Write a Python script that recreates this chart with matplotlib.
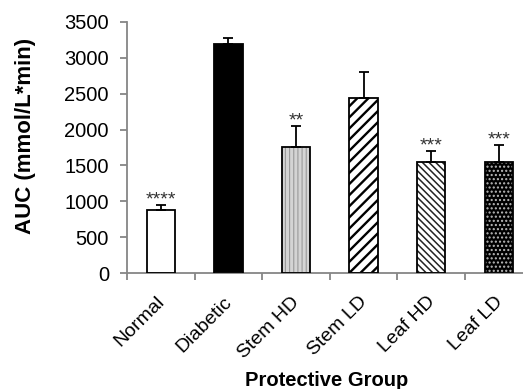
import matplotlib
matplotlib.use("Agg")
import matplotlib.pyplot as plt
import matplotlib.transforms as mtransforms
import numpy as np

plt.rcParams['font.family'] = ['Liberation Sans', 'DejaVu Sans']

groups = ["Normal", "Diabetic", "Stem HD", "Stem LD", "Leaf HD", "Leaf LD"]
auc = [881, 3186, 1761, 2443, 1544, 1553]
auc_err = [73, 92, 292, 362, 157, 232]
stars = ["****", "", "**", "", "***", "***"]

# face, hatch, hatch colour, hatch width
styles = [
    ("white", None, "black", 1.0),
    ("black", None, "black", 1.0),
    ("#d4d4d4", "||||", "#999999", 0.8),
    ("white", "///", "black", 1.7),
    ("white", "\\\\\\\\\\", "#222222", 1.1),
    ("black", "....", "#bbbbbb", 1.0),
]

fig = plt.figure(figsize=(5.23, 3.89), dpi=100)
ax = fig.add_axes([0.2428, 0.2974, 0.7755, 0.6468])

x = np.arange(len(groups))
w = 0.42
for i in range(len(groups)):
    fc, h, hc, hw = styles[i]
    plt.rcParams['hatch.linewidth'] = hw
    ax.bar(x[i], auc[i], w, color=fc, edgecolor=hc, hatch=h, linewidth=0, zorder=2)
    ax.bar(x[i], auc[i], w, fill=False, edgecolor="black", linewidth=1.3, zorder=3)

ax.errorbar(x, auc, yerr=[np.zeros(len(x)), auc_err], fmt="none", ecolor="black",
            elinewidth=1.3, capsize=3.6, capthick=1.3, zorder=4)

for i, s in enumerate(stars):
    if s:
        ax.annotate(s, (x[i], auc[i] + auc_err[i]), xytext=(0, 0.3),
                    textcoords="offset points", ha="center", va="baseline",
                    fontsize=14, color="#333333")

ax.set_xlim(-0.5, 5.5)
ax.set_ylim(0, 3500)
ax.set_yticks(np.arange(0, 3501, 500))
ax.set_xticks(np.arange(-0.5, 5.6, 1))
ax.set_xticklabels([])
ax.set_xticks(x, minor=True)
ax.set_xticklabels(groups, minor=True, rotation=45, ha="right", rotation_mode="anchor")
ax.tick_params(axis="x", which="minor", length=0, labelsize=14, pad=13)
ax.tick_params(axis="x", which="major", length=5, width=1.3, color="#868686")
ax.tick_params(axis="y", length=5, width=1.3, color="#868686", labelsize=14.5, pad=8)

shift = mtransforms.ScaledTranslation(-5 / 100, -2 / 100, fig.dpi_scale_trans)
for lab in ax.get_xticklabels(minor=True):
    lab.set_transform(lab.get_transform() + shift)

for sp in ["top", "right"]:
    ax.spines[sp].set_visible(False)
for sp in ["left", "bottom"]:
    ax.spines[sp].set_color("#868686")
    ax.spines[sp].set_linewidth(1.3)

ax.set_ylabel("AUC (mmol/L*min)", fontsize=16, fontweight="bold")
ax.yaxis.set_label_coords(-0.224, 0.546)
ax.set_xlabel("Protective Group", fontsize=14.5, fontweight="bold")
ax.xaxis.set_label_coords(0.493, -0.388)

fig.savefig("out.png", dpi=100)
